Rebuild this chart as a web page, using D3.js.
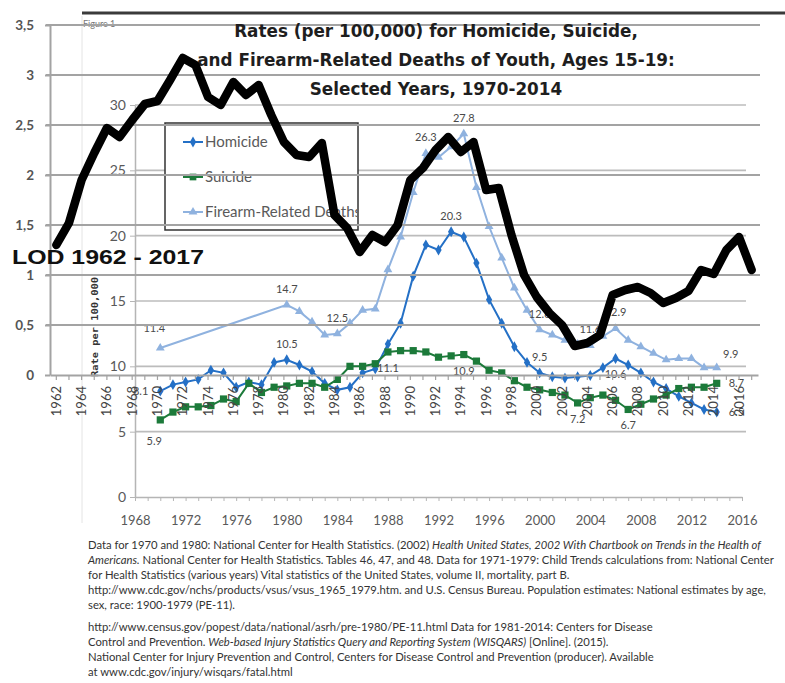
<!DOCTYPE html>
<html><head><meta charset="utf-8">
<script src="https://cdn.jsdelivr.net/npm/d3@7"></script>
<style>body{margin:0;background:#fff} svg{display:block}</style>
</head><body>
<svg id="c" width="785" height="683"></svg>
<script>
// ---------------- DATA ----------------
const lodYears = [1962,1963,1964,1965,1966,1967,1968,1969,1970,1971,1972,1973,1974,1975,1976,1977,1978,1979,1980,1981,1982,1983,1984,1985,1986,1987,1988,1989,1990,1991,1992,1993,1994,1995,1996,1997,1998,1999,2000,2001,2002,2003,2004,2005,2006,2007,2008,2009,2010,2011,2012,2013,2014,2015,2016,2017];
const lodValues = [1.30,1.52,1.95,2.22,2.47,2.38,2.55,2.71,2.74,2.95,3.17,3.10,2.78,2.70,2.93,2.80,2.90,2.60,2.33,2.20,2.18,2.32,1.60,1.47,1.23,1.40,1.33,1.50,1.95,2.07,2.25,2.38,2.23,2.33,1.85,1.87,1.40,1.00,0.78,0.62,0.50,0.29,0.32,0.40,0.80,0.85,0.88,0.82,0.72,0.77,0.84,1.05,1.01,1.25,1.38,1.05];
const outerYTicks = [0,0.5,1,1.5,2,2.5,3,3.5];
const outerXLabels = [1962,1964,1966,1968,1970,1972,1974,1976,1978,1980,1982,1984,1986,1988,1990,1992,1994,1996,1998,2000,2002,2004,2006,2008,2010,2012,2014,2016];

const youthYears = [1970,1971,1972,1973,1974,1975,1976,1977,1978,1979,1980,1981,1982,1983,1984,1985,1986,1987,1988,1989,1990,1991,1992,1993,1994,1995,1996,1997,1998,1999,2000,2001,2002,2003,2004,2005,2006,2007,2008,2009,2010,2011,2012,2013,2014];
const homicide = [8.1,8.6,8.8,9.0,9.7,9.5,8.4,8.8,8.6,10.3,10.5,10.1,9.6,8.7,8.2,8.4,9.5,9.8,11.7,13.3,16.9,19.3,18.9,20.3,19.9,17.9,15.1,13.3,11.5,10.3,9.5,9.2,9.1,9.2,9.3,9.9,10.6,10.1,9.5,8.8,8.3,7.7,7.2,6.7,6.5];
const suicide = [5.9,6.5,6.9,6.9,7.0,7.5,7.3,8.7,8.0,8.4,8.5,8.7,8.7,8.4,9.0,10.0,10.0,10.2,11.1,11.2,11.2,11.1,10.7,10.8,10.9,10.4,9.7,9.5,8.9,8.4,8.2,8.0,7.8,7.2,7.6,7.8,7.4,6.7,7.1,7.5,7.8,8.3,8.4,8.4,8.7];
const firearmYears = [1970,1980,1981,1982,1983,1984,1985,1986,1987,1988,1989,1990,1991,1992,1993,1994,1995,1996,1997,1998,1999,2000,2001,2002,2003,2004,2005,2006,2007,2008,2009,2010,2011,2012,2013,2014];
const firearm = [11.4,14.7,14.2,13.4,12.4,12.5,13.3,14.3,14.4,17.4,19.9,23.3,26.3,26.0,26.8,27.8,23.7,20.7,18.3,16.0,14.3,12.8,12.4,12.0,11.7,11.6,12.3,12.9,12.0,11.5,11.0,10.5,10.6,10.6,9.9,9.9];
const innerYTicks = [0,5,10,15,20,25,30];
const innerXLabels = [1968,1972,1976,1980,1984,1988,1992,1996,2000,2004,2008,2012,2016];
const homicideLabelYears = [1970,1980,1993,2000,2006,2014];
const suicideLabelYears = [1970,1988,1994,2003,2007,2014];
const firearmLabelYears = [1970,1980,1984,1991,1994,2000,2004,2006,2014];
const seriesNames = ["Homicide","Suicide","Firearm-Related Deaths"];

const titleLines = ["Rates (per 100,000) for Homicide, Suicide,","and Firearm-Related Deaths of Youth, Ages 15-19:","Selected Years, 1970-2014"];
const footLines = [
 [["Data for 1970 and 1980: National Center for Health Statistics. (2002) ",0],["Health United States, 2002 With Chartbook on Trends in the Health of",1]],
 [["Americans.",1],[" National Center for Health Statistics.  Tables 46, 47, and 48. Data for 1971-1979: Child Trends calculations from: National Center",0]],
 [["for Health Statistics (various years) Vital statistics of the United States, volume II, mortality, part B.",0]],
 [["http://www.cdc.gov/nchs/products/vsus/vsus_1965_1979.htm. and U.S. Census Bureau. Population estimates: National estimates by age,",0]],
 [["sex, race: 1900-1979 (PE-11).",0]],
 [["http://www.census.gov/popest/data/national/asrh/pre-1980/PE-11.html Data for 1981-2014: Centers for Disease",0]],
 [["Control and Prevention.  ",0],["Web-based Injury Statistics Query and Reporting System (WISQARS)",1],["  [Online]. (2015).",0]],
 [["National Center for Injury Prevention and Control, Centers for Disease Control and Prevention (producer).  Available",0]],
 [["at www.cdc.gov/injury/wisqars/fatal.html",0]]
];

// ---------------- DRAW ----------------
const svg = d3.select("#c");
const FONT = "Lato, 'Open Sans', sans-serif";

function fit(sel, target){
  const w = sel.node().getComputedTextLength();
  const fs = parseFloat(sel.attr("font-size"));
  sel.attr("font-size", fs*target/w);
  return fs*target/w;
}

// page frame
svg.append("line").attr("x1",82).attr("x2",82).attr("y1",16).attr("y2",523).attr("stroke","#e4e4e4");
svg.append("line").attr("x1",82).attr("x2",785).attr("y1",13).attr("y2",13).attr("stroke","#3a3a3a").attr("stroke-width",3);
svg.append("text").attr("x",83).attr("y",27).attr("font-family",FONT).attr("font-size",9).attr("fill","#777").text("Figure 1");

// ---- inner chart ----
const xIn = d3.scaleLinear().domain([1968,2016]).range([135,742]);
const yIn = d3.scaleLinear().domain([0,30]).range([497,105]);
const gi = svg.append("g");
gi.selectAll("line.grid").data(innerYTicks.filter(v=>v>0)).join("line")
  .attr("class","grid").attr("x1",135).attr("x2",746)
  .attr("y1",d=>yIn(d)).attr("y2",d=>yIn(d)).attr("stroke","#bcbcbc").attr("stroke-width",1.6);
const yAxIn = gi.append("g").attr("transform","translate(135,0)")
  .call(d3.axisLeft(yIn).tickValues(innerYTicks).tickSize(5).tickSizeOuter(0).tickPadding(4));
yAxIn.select(".domain").attr("stroke","#b5b5b5").attr("stroke-width",1.5);
yAxIn.selectAll(".tick line").attr("stroke","#b5b5b5");
yAxIn.selectAll("text").attr("font-family",FONT).attr("font-size",14).attr("fill","#595959");
const xAxIn = gi.append("g").attr("transform","translate(0,497)")
  .call(d3.axisBottom(xIn).tickValues(d3.range(1968,2017)).tickSize(4).tickSizeOuter(0).tickPadding(15)
    .tickFormat(d=>innerXLabels.includes(d)?String(d):""));
xAxIn.select(".domain").attr("stroke","#b5b5b5").attr("stroke-width",1.5);
xAxIn.selectAll(".tick line").attr("stroke","#b5b5b5");
xAxIn.selectAll("text").attr("font-family",FONT).attr("font-size",13).attr("fill","#595959");

const colors = {h:"#2470c6", s:"#1c7a3a", f:"#8fb2df"};
const lineIn = d3.line().x(d=>xIn(d[0])).y(d=>yIn(d[1]));
const hData = youthYears.map((y,i)=>[y,homicide[i]]);
const sData = youthYears.map((y,i)=>[y,suicide[i]]);
const fData = firearmYears.map((y,i)=>[y,firearm[i]]);
const series = [
  {data:fData, color:colors.f, sym:d3.symbolTriangle, size:34},
  {data:hData, color:colors.h, sym:d3.symbolDiamond, size:34},
  {data:sData, color:colors.s, sym:d3.symbolSquare, size:52}
];
series.forEach(s=>{
  gi.append("path").datum(s.data).attr("d",lineIn).attr("fill","none").attr("stroke",s.color).attr("stroke-width",2);
  gi.selectAll(null).data(s.data).join("path")
    .attr("transform",d=>`translate(${xIn(d[0])},${yIn(d[1])})`)
    .attr("d",d3.symbol().type(s.sym).size(s.size)).attr("fill",s.color);
});

// data labels
const place = {
  above:[0,-12,"middle"], below:[0,20,"middle"], left:[-12,4,"end"], right:[12,4,"start"],
  upleft:[-6,-16,"middle"], upright:[14,-10,"middle"], downleft:[-6,25,"middle"]
};
function labels(data, years, posFn){
  years.forEach(yr=>{
    const d = data.find(p=>p[0]===yr);
    const p = place[posFn(yr)];
    gi.append("text").attr("x",xIn(d[0])+p[0]).attr("y",yIn(d[1])+p[1]).attr("text-anchor",p[2])
      .attr("font-family",FONT).attr("font-size",11).attr("fill","#4a4a4a").text(d[1].toFixed(1));
  });
}
labels(fData, firearmLabelYears, y=> y===1970?"upleft": y===2014?"upright":"above");
labels(hData, homicideLabelYears, y=> y===1970?"left": y===2014?"right": y===2006?"below":"above");
labels(sData, suicideLabelYears, y=> y===1970?"downleft": y===2014?"right":"below");

// legend
const lg = gi.append("g");
lg.append("clipPath").attr("id","lgclip").append("rect").attr("x",165).attr("y",123).attr("width",192).attr("height",107);
lg.append("rect").attr("x",165).attr("y",123).attr("width",193).attr("height",107)
  .attr("fill","#fff").attr("stroke","#333").attr("stroke-width",1.5);
const legItems = [
  {name:seriesNames[0], color:colors.h, sym:d3.symbolDiamond, size:34},
  {name:seriesNames[1], color:colors.s, sym:d3.symbolSquare, size:45},
  {name:seriesNames[2], color:colors.f, sym:d3.symbolTriangle, size:34}
];
legItems.forEach((it,i)=>{
  const y = 142 + i*35;
  lg.append("line").attr("x1",183).attr("x2",203).attr("y1",y).attr("y2",y).attr("stroke",it.color).attr("stroke-width",2);
  lg.append("path").attr("transform",`translate(193,${y})`).attr("d",d3.symbol().type(it.sym).size(it.size)).attr("fill",it.color);
  lg.append("text").attr("x",205).attr("y",y+5).attr("clip-path","url(#lgclip)")
    .attr("font-family",FONT).attr("font-size",15).attr("fill","#5a5a5a").text(it.name);
});

// inner y title (kept below the LOD caption)
gi.append("text").attr("transform","translate(98,377) rotate(-90)").attr("text-anchor","start")
  .attr("font-family","'DejaVu Sans Mono', monospace").attr("font-weight","bold").attr("font-size",9.5)
  .attr("fill","#333").attr("textLength",100).attr("lengthAdjust","spacingAndGlyphs").text("Rate per 100,000");

// ---- outer chart ----
const xOut = d3.scaleBand().domain(lodYears).range([50,758]);
const yOut = d3.scaleLinear().domain([0,3.5]).range([375,25]);
const go = svg.append("g");
go.selectAll("line.grid").data(outerYTicks.filter(v=>v>0)).join("line")
  .attr("class","grid").attr("x1",46).attr("x2",760)
  .attr("y1",d=>yOut(d)).attr("y2",d=>yOut(d)).attr("stroke","#a3a3a3").attr("stroke-width",2);
const yAxO = go.append("g").attr("transform","translate(50,0)")
  .call(d3.axisLeft(yOut).tickValues(outerYTicks).tickSize(5).tickSizeOuter(0).tickPadding(11)
    .tickFormat(d=>String(d).replace(".",",")));
yAxO.select(".domain").attr("stroke","#a3a3a3").attr("stroke-width",2);
yAxO.selectAll(".tick line").attr("stroke","#a3a3a3").attr("stroke-width",2);
yAxO.selectAll("text").attr("font-family",FONT).attr("font-weight","bold").attr("font-size",13.5).attr("fill","#555");
const xAxO = go.append("g").attr("transform","translate(0,375)")
  .call(d3.axisBottom(xOut).tickValues(lodYears).tickSize(5).tickSizeOuter(0)
    .tickFormat(d=>outerXLabels.includes(d)?String(d):""));
xAxO.select(".domain").attr("stroke","#a3a3a3").attr("stroke-width",2);
xAxO.selectAll(".tick line").attr("stroke","#a3a3a3").attr("stroke-width",1.2);
xAxO.selectAll("text").attr("font-family",FONT).attr("font-size",13).attr("fill","#444")
  .attr("transform","rotate(-90)").attr("text-anchor","end").attr("x",-11).attr("y",4.5).attr("dy",0);

// title
const tg = svg.append("g");
const tl = titleLines.map((t,i)=> tg.append("text").attr("x",436).attr("y",37+i*29).attr("text-anchor","middle")
  .attr("font-family","'DejaVu Sans', Verdana, sans-serif").attr("font-weight","bold").attr("font-size",17)
  .attr("fill","#1e1e1e").text(t));
const tfs = fit(tl[1], 478);
tl.forEach(t=>t.attr("font-size",tfs));

// LOD line
const lodData = lodYears.map((y,i)=>[y,lodValues[i]]);
svg.append("path").datum(lodData)
  .attr("d", d3.line().x(d=>xOut(d[0])+xOut.bandwidth()/2).y(d=>yOut(d[1])))
  .attr("fill","none").attr("stroke","#000").attr("stroke-width",8.5)
  .attr("stroke-linejoin","round").attr("stroke-linecap","round");

svg.append("text").attr("x",12).attr("y",263.5)
  .attr("font-family","'Liberation Sans', Arial, sans-serif").attr("font-weight","bold")
  .attr("font-size",20.5).attr("fill","#111")
  .attr("textLength",192).attr("lengthAdjust","spacingAndGlyphs").text("LOD 1962 - 2017");

// footnotes
const fg = svg.append("g");
const fys = [549,564,579,594,609,631,646,661,676];
const fnodes = footLines.map((segs,i)=>{
  const t = fg.append("text").attr("x",88).attr("y",fys[i]).attr("font-family",FONT).attr("font-size",11).attr("fill","#333");
  segs.forEach(s=> t.append("tspan").attr("font-style", s[1]?"italic":"normal").text(s[0]));
  return t;
});
const ffs = fit(fnodes[0], 674);
fnodes.forEach(t=>t.attr("font-size",ffs));
</script>
</body></html>
